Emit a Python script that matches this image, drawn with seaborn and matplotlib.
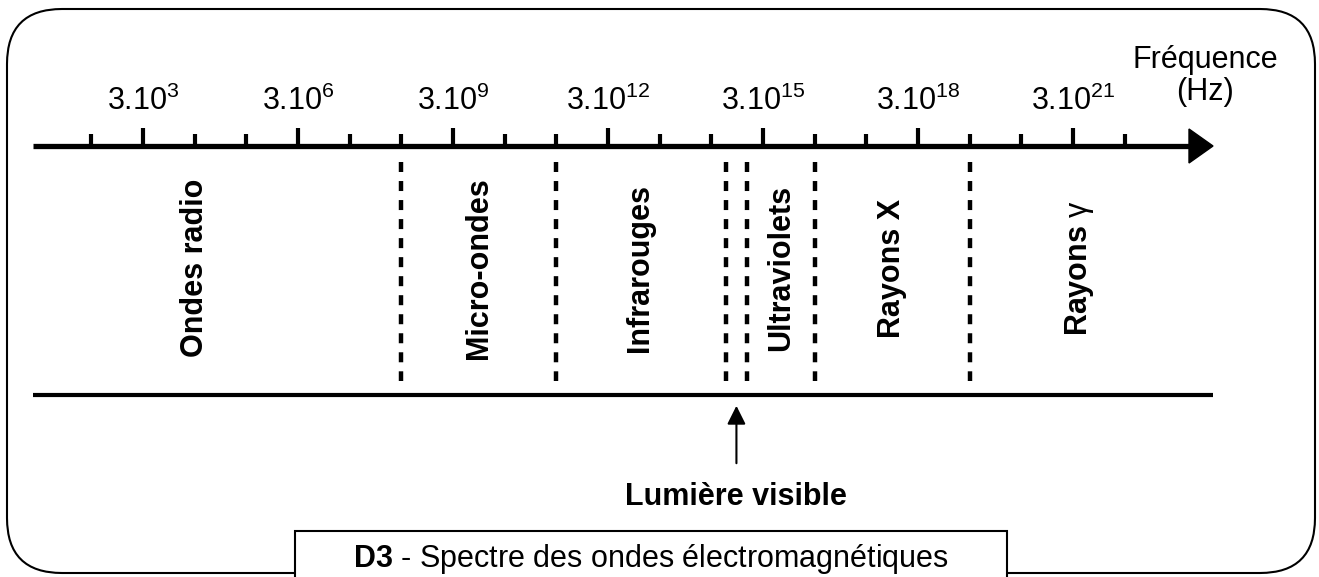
"""
Electromagnetic spectrum diagram (D3)
"""
import matplotlib
matplotlib.use('Agg')
from matplotlib import pyplot as plt
from matplotlib.patches import FancyBboxPatch, Rectangle, Polygon
import seaborn as sns


"""
# Data
"""
major_exp = [3, 6, 9, 12, 15, 18, 21]
minor_exp = [2, 4, 5, 7, 8, 10, 11, 13, 14, 16, 17, 19, 20, 22]
boundary_exp = [8, 11, 14.28, 14.69, 16, 19]
band_names = ['Ondes radio', 'Micro-ondes', 'Infrarouges', 'Ultraviolets',
              'Rayons X', 'Rayons $\\mathrm{\\gamma}$']
band_centre_exp = [4.0, 9.5, 12.62, 15.35, 17.5, 21.12]
visible_exp = (14.28 + 14.69) / 2


"""
# Style
"""
sns.set_style('white')
plt.rcParams['font.family'] = ['Liberation Sans', 'DejaVu Sans']
plt.rcParams['text.color'] = 'black'
plt.rcParams['mathtext.fontset'] = 'custom'
plt.rcParams['mathtext.rm'] = 'Liberation Sans'
plt.rcParams['mathtext.it'] = 'Liberation Sans:italic'
plt.rcParams['mathtext.bf'] = 'Liberation Sans:bold'
plt.rcParams['lines.scale_dashes'] = False

W, H = 1319, 577
PX_PER_DEC = 51.67
X0 = 143  # pixel of 3.10^3


def px2e(px):
   return 3 + (px - X0) / PX_PER_DEC


fig = plt.figure(figsize=(W / 100, H / 100), dpi=100)
ax = fig.add_axes([0, 0, 1, 1])
ax.set_xlim(px2e(0), px2e(W))
ax.set_ylim(H, 0)
ax.axis('off')

# frame / caption layer in pixel coordinates
fax = fig.add_axes([0, 0, 1, 1], zorder=-1)
fax.set_xlim(0, W)
fax.set_ylim(H, 0)
fax.axis('off')
fax.add_patch(FancyBboxPatch((7, 9), 1308, 564,
                             boxstyle='round,pad=0,rounding_size=55',
                             fc='white', ec='black', lw=1.5))
fax.add_patch(Rectangle((295, 531), 712, 60, fc='white', ec='black', lw=1.5,
                        zorder=3))
fax.text(651, 567, r'$\mathbf{D3}$ - Spectre des ondes électromagnétiques',
         ha='center', va='baseline', fontsize=22, zorder=4)
fax.text(1205, 68, 'Fréquence', ha='center', va='baseline', fontsize=22)
fax.text(1205, 100, '(Hz)', ha='center', va='baseline', fontsize=22)


"""
# Frequency axis
"""
arrow_base, arrow_tip = px2e(1189), px2e(1213)
ax.plot([px2e(33), arrow_base], [146, 146], color='black', lw=3.8,
        solid_capstyle='butt')
ax.add_patch(Polygon([(arrow_base, 129), (arrow_tip, 146), (arrow_base, 163)],
                     closed=True, fc='black', ec='black'))
ax.vlines(major_exp, 128, 146, color='black', lw=3)
ax.vlines(minor_exp, 134, 146, color='black', lw=3)
for e in major_exp:
   ax.text(e, 110, '3.10$^{%d}$' % e, ha='center', va='baseline',
           fontsize=22)


"""
# Bands
"""
ax.vlines(boundary_exp, 162, 381, color='black', lw=3.2,
          linestyles=[(0, (7.2, 6.5))])
ax.plot([px2e(33), px2e(1213)], [395, 395], color='black', lw=3,
        solid_capstyle='butt')
for name, e in zip(band_names, band_centre_exp):
   ax.text(e, 268, name, rotation=90, ha='center', va='center',
           fontsize=22, fontweight='bold')

ax.annotate('', xy=(visible_exp, 403), xytext=(visible_exp, 466),
            arrowprops=dict(arrowstyle='-|>', color='black', lw=1.5,
                            mutation_scale=28))
ax.text(visible_exp, 505, 'Lumière visible', ha='center', va='baseline',
        fontsize=22, fontweight='bold')

plt.savefig('out.png', dpi=100)
